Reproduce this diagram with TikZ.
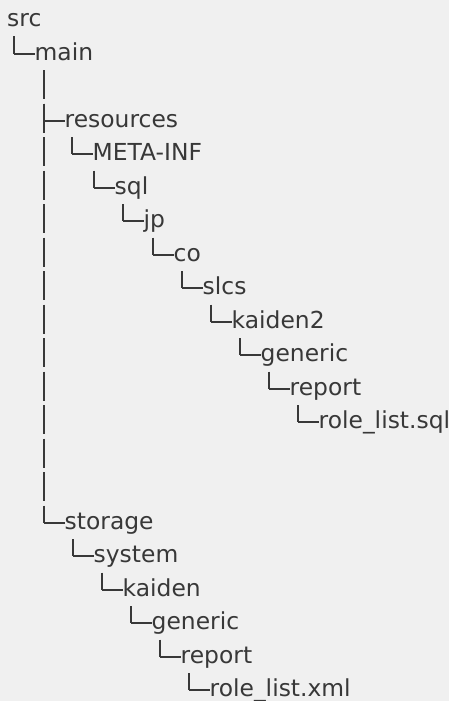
\documentclass[tikz,border=0pt]{standalone}
\usepackage{fontspec}
\setmainfont{DejaVu Sans}
\definecolor{ink}{HTML}{383838}
\definecolor{paper}{HTML}{F0F0F0}
\begin{document}
\begin{tikzpicture}[x=1pt,y=-1pt,line join=round,font=\fontsize{23.4}{28}\selectfont,
	dir/.style={anchor=base west,inner sep=0pt,text=ink},
	branch/.style={draw=ink,line width=2pt},
	trunk/.style={branch,dash pattern=on 29.3pt off 4.2pt}]
	\def\h{33.5};\def\b{26.7};
	\fill[paper] (0,0) rectangle (449,701);
	\useasboundingbox (0,0) rectangle (449,701);
	\node[dir] (src) at (7,\b) {src};
	\foreach \n/\p/\r/\x/\t in {main/src/1/14/main,res/main/3/44/resources,meta/res/4/72/META-INF,sql/meta/5/94/sql,jp/sql/6/123/jp,co/jp/7/153/co,slcs/co/8/182/slcs,kdn2/slcs/9/211/kaiden2,gen1/kdn2/10/240/generic,rep1/gen1/11/269/report,sqlf/rep1/12/298/role\_list.sql,sto/main/15/44/storage,sys/sto/16/73/system,kdn/sys/17/102/kaiden,gen2/kdn/18/131/generic,rep2/gen2/19/160/report,xmlf/rep2/20/189/role\_list.xml}{
		\node[dir] (\n) at (\x+20.5,\b+\r*\h) {\t};
		\coordinate (k-\n) at (\x,{round(\b+\r*\h-6.3)});
		\draw[trunk] ([yshift=-9.8pt]\p.base -| k-\n) -- (k-\n);
		\draw[branch] (k-\n) -- (\n.base west |- k-\n);
	}
\end{tikzpicture}
\end{document}
